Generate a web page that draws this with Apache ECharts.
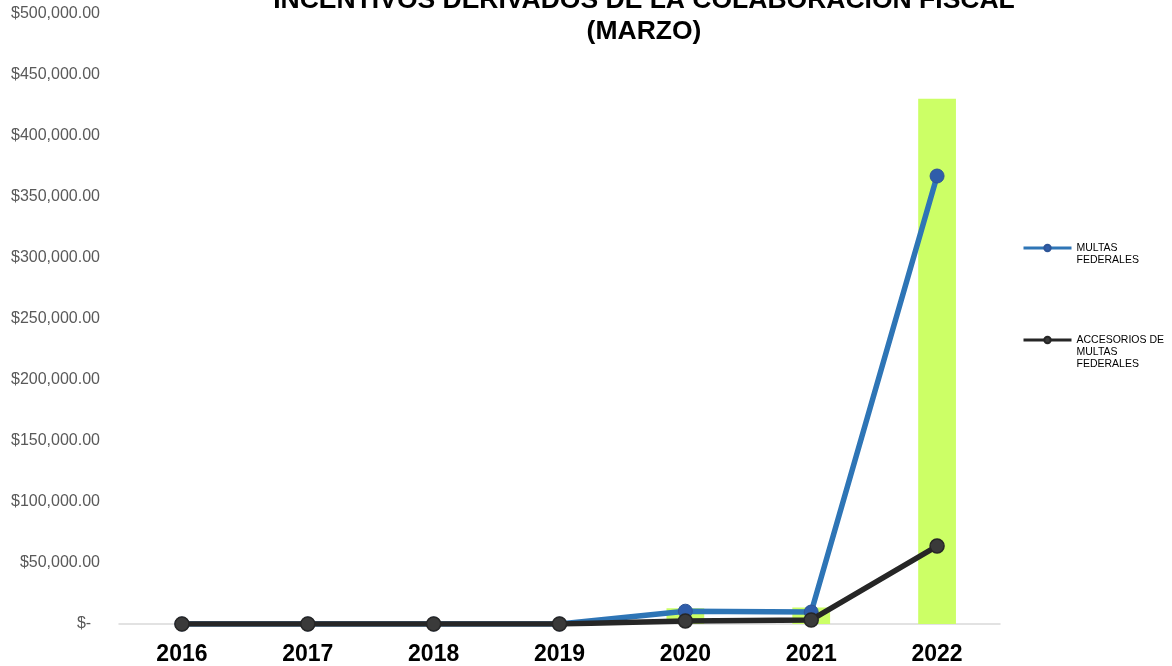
<!DOCTYPE html>
<html>
<head>
<meta charset="utf-8">
<script src="https://cdn.jsdelivr.net/npm/echarts@6/dist/echarts.min.js"></script>
<style>
html,body{margin:0;padding:0;background:#fff;}
#chart{width:1172px;height:666px;}
</style>
</head>
<body>
<div id="chart"></div>
<script>
const years = ['2016', '2017', '2018', '2019', '2020', '2021', '2022'];
const multasFederales = [0, 0, 0, 0, 10500, 9800, 367200];
const accesoriosMultas = [0, 0, 0, 0, 2500, 3300, 63900];
const totalIncentivos = [0, 0, 0, 0, 13000, 13500, 430500];
const yTicks = { min: 0, max: 500000, interval: 50000 };

const FONT = '"Liberation Sans", Arial, sans-serif';
const chart = echarts.init(document.getElementById('chart'));

function money(v) {
  if (v === 0) return '$-  ';
  return '$' + v.toLocaleString('en-US', { minimumFractionDigits: 2, maximumFractionDigits: 2 });
}

const legendCommon = {
  orient: 'vertical', left: 1022, padding: 0,
  itemWidth: 48, itemHeight: 8, itemGap: 9,
  lineStyle: { width: 3 },
  textStyle: { fontFamily: FONT, fontSize: 10.5, lineHeight: 12, color: '#000000' }
};

chart.setOption({
  backgroundColor: '#ffffff',
  animation: false,
  title: {
    text: 'INCENTIVOS DERIVADOS DE LA COLABORACIÓN FISCAL\n(MARZO)',
    left: 644,
    top: -15,
    padding: 0,
    textAlign: 'center',
    textStyle: { fontFamily: FONT, fontSize: 26.5, fontWeight: 'bold', color: '#000000', lineHeight: 31 }
  },
  legend: [
    Object.assign({}, legendCommon, {
      data: ['MULTAS FEDERALES'],
      top: 230,
      formatter: function () { return '\nMULTAS\nFEDERALES'; }
    }),
    Object.assign({}, legendCommon, {
      data: ['ACCESORIOS DE MULTAS FEDERALES'],
      top: 310,
      formatter: function () { return '\n\nACCESORIOS DE\nMULTAS\nFEDERALES'; }
    })
  ],
  grid: { left: 119, right: 172, top: 14, bottom: 42, containLabel: false },
  xAxis: {
    type: 'category',
    data: years,
    boundaryGap: true,
    axisLine: { show: true, lineStyle: { color: '#D9D9D9', width: 1.5 } },
    axisTick: { show: false },
    axisLabel: { fontFamily: FONT, fontSize: 23, fontWeight: 'bold', color: '#000000', margin: 19 },
    splitLine: { show: false }
  },
  yAxis: {
    type: 'value',
    min: yTicks.min, max: yTicks.max, interval: yTicks.interval,
    axisLine: { show: false },
    axisTick: { show: false },
    splitLine: { show: false },
    axisLabel: { fontFamily: FONT, fontSize: 16, color: '#595959', margin: 19, padding: [4, 0, 0, 0], formatter: money }
  },
  series: [
    {
      name: 'TOTAL',
      type: 'bar',
      data: totalIncentivos,
      barWidth: '30%',
      itemStyle: { color: '#CCFF66' },
      z: 1
    },
    {
      name: 'MULTAS FEDERALES',
      type: 'line',
      data: multasFederales,
      symbol: 'circle',
      symbolSize: 14,
      lineStyle: { color: '#2E75B6', width: 5.5 },
      itemStyle: { color: '#2F5DAA', borderColor: '#2E5597', borderWidth: 1 },
      z: 3
    },
    {
      name: 'ACCESORIOS DE MULTAS FEDERALES',
      type: 'line',
      data: accesoriosMultas,
      symbol: 'circle',
      symbolSize: 14,
      lineStyle: { color: '#262626', width: 5.5 },
      itemStyle: { color: '#3A3A3A', borderColor: '#262626', borderWidth: 1.5 },
      z: 4
    }
  ]
});
</script>
</body>
</html>
